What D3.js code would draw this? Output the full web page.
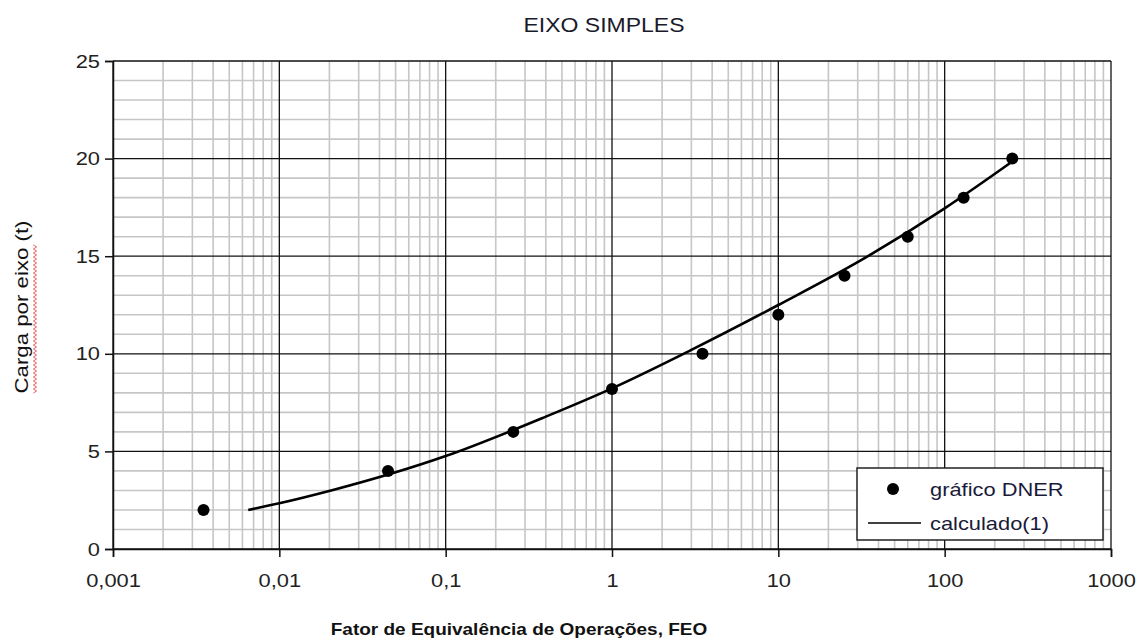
<!DOCTYPE html>
<html>
<head>
<meta charset="utf-8">
<script src="https://cdn.jsdelivr.net/npm/d3@7"></script>
<style>
  html, body { margin: 0; padding: 0; background: #fff; }
  svg { display: block; font-family: "Liberation Sans", Arial, sans-serif; }
</style>
</head>
<body>
<div id="chart"></div>
<script>
/* global d3 */

// data
const dnerFeo = [0.0035, 0.045, 0.255, 1, 3.5, 10, 25, 60, 130, 255]
const dnerLoad = [2, 4, 6, 8.2, 10, 12, 14, 16, 18, 20]

const calcFeo = [0.0065, 0.01, 0.021, 0.1, 0.4, 1, 3, 10, 33, 100, 260]
const calcLoad = [2.0, 2.34, 3.02, 4.76, 6.78, 8.23, 10.2, 12.5, 14.9, 17.45, 19.9]

const xTickValues = [0.001, 0.01, 0.1, 1, 10, 100, 1000]
const xTickLabels = ['0,001', '0,01', '0,1', '1', '10', '100', '1000']
const yTickValues = [0, 5, 10, 15, 20, 25]

const title = 'EIXO SIMPLES'
const xTitle = 'Fator de Equivalência de Operações, FEO'
const yTitle = 'Carga por eixo (t)'
const legendLabels = ['gráfico DNER', 'calculado(1)']

const width = 1141
const height = 642
const plotLeft = 113
const plotRight = 1111
const plotTop = 61
const plotBottom = 549
const stretch = 1.15

const svg = d3.select('#chart').append('svg').attr('width', width).attr('height', height)

const x = d3.scaleLog().domain([0.001, 1000]).range([plotLeft, plotRight])
const y = d3.scaleLinear().domain([0, 25]).range([plotBottom, plotTop])

// grid
const grid = svg.append('g')
const minorX = x.ticks().filter((v) => !xTickValues.includes(v))
grid.selectAll('.vminor').data(minorX).enter().append('line')
  .attr('x1', (d) => x(d)).attr('x2', (d) => x(d))
  .attr('y1', plotTop).attr('y2', plotBottom)
  .attr('stroke', '#c6c6c6').attr('stroke-width', 1.6)

const minorY = d3.range(1, 25).filter((v) => v % 5 !== 0)
grid.selectAll('.hminor').data(minorY).enter().append('line')
  .attr('x1', plotLeft).attr('x2', plotRight)
  .attr('y1', (d) => y(d)).attr('y2', (d) => y(d))
  .attr('stroke', '#c6c6c6').attr('stroke-width', 1.6)

grid.selectAll('.vmajor').data(xTickValues).enter().append('line')
  .attr('x1', (d) => x(d)).attr('x2', (d) => x(d))
  .attr('y1', plotTop).attr('y2', plotBottom)
  .attr('stroke', '#111').attr('stroke-width', 1.3)

grid.selectAll('.hmajor').data(yTickValues).enter().append('line')
  .attr('x1', plotLeft).attr('x2', plotRight)
  .attr('y1', (d) => y(d)).attr('y2', (d) => y(d))
  .attr('stroke', '#111').attr('stroke-width', 1.3)

// axes
const xAxis = d3.axisBottom(x)
  .tickValues(xTickValues)
  .tickFormat((d, i) => xTickLabels[i])
  .tickSize(8)
  .tickPadding(17)
const yAxis = d3.axisLeft(y)
  .tickValues(yTickValues)
  .tickFormat(d3.format('d'))
  .tickSize(8)
  .tickPadding(5)

const gx = svg.append('g').attr('transform', `translate(0,${plotBottom})`).call(xAxis)
const gy = svg.append('g').attr('transform', `translate(${plotLeft},0)`).call(yAxis)
for (const g of [gx, gy]) {
  g.select('.domain').attr('stroke', '#111').attr('stroke-width', 1.5)
  g.selectAll('.tick line').attr('stroke', '#111').attr('stroke-width', 1.5)
  g.selectAll('.tick text')
    .attr('fill', '#222')
    .style('font-size', '19px')
    .style('font-family', '"Liberation Sans", Arial, sans-serif')
}

// calculated curve
const line = d3.line()
  .x((d) => x(d[0]))
  .y((d) => y(d[1]))
  .curve(d3.curveMonotoneX)
svg.append('path')
  .datum(calcFeo.map((f, i) => [f, calcLoad[i]]))
  .attr('d', line)
  .attr('fill', 'none')
  .attr('stroke', '#000')
  .attr('stroke-width', 2.6)

// DNER points
svg.append('g').selectAll('circle')
  .data(dnerFeo.map((f, i) => [f, dnerLoad[i]]))
  .enter().append('circle')
  .attr('cx', (d) => x(d[0]))
  .attr('cy', (d) => y(d[1]))
  .attr('r', 6)
  .attr('fill', '#000')

// titles
svg.append('text')
  .attr('class', 'stretch')
  .attr('x', 604).attr('y', 32)
  .attr('text-anchor', 'middle')
  .attr('fill', '#1a1a2a')
  .style('font-size', '20px')
  .text(title)

svg.append('text')
  .attr('class', 'stretch')
  .attr('x', 519).attr('y', 635)
  .attr('text-anchor', 'middle')
  .attr('fill', '#111')
  .style('font-size', '16.5px')
  .style('font-weight', 'bold')
  .text(xTitle)

const yt = svg.append('g').attr('transform', 'translate(28,307) rotate(-90)')
yt.append('text')
  .attr('x', 0).attr('y', 0)
  .attr('text-anchor', 'middle')
  .attr('fill', '#111')
  .style('font-size', '19px')
  .attr('textLength', 173)
  .attr('lengthAdjust', 'spacingAndGlyphs')
  .text(yTitle)
// spell-check squiggle under "Carga por eixo"
const squiggle = d3.range(-86, 64, 2).map((v, i) => [v, 7 + (i % 2 ? 1.6 : -1.6)])
yt.append('path')
  .attr('d', d3.line()(squiggle))
  .attr('fill', 'none')
  .attr('stroke', '#f06060')
  .attr('stroke-width', 1)

// legend
const legend = svg.append('g').attr('transform', 'translate(857,468)')
legend.append('rect')
  .attr('width', 246).attr('height', 72)
  .attr('fill', '#fff')
  .attr('stroke', '#222').attr('stroke-width', 1.5)
legend.append('circle').attr('cx', 36).attr('cy', 21).attr('r', 6).attr('fill', '#000')
legend.append('line')
  .attr('x1', 11).attr('x2', 64).attr('y1', 55).attr('y2', 55)
  .attr('stroke', '#000').attr('stroke-width', 1.5)
legend.selectAll('text').data(legendLabels).enter().append('text')
  .attr('class', 'stretch')
  .attr('x', 73)
  .attr('y', (d, i) => 28 + i * 34)
  .attr('fill', '#1a1a3a')
  .style('font-size', '19px')
  .text((d) => d)

// the reference text is a little wider than the font
svg.selectAll('.stretch, .tick text').each(function () {
  const w = this.getComputedTextLength()
  d3.select(this).attr('textLength', w * stretch).attr('lengthAdjust', 'spacingAndGlyphs')
})
</script>
</body>
</html>
